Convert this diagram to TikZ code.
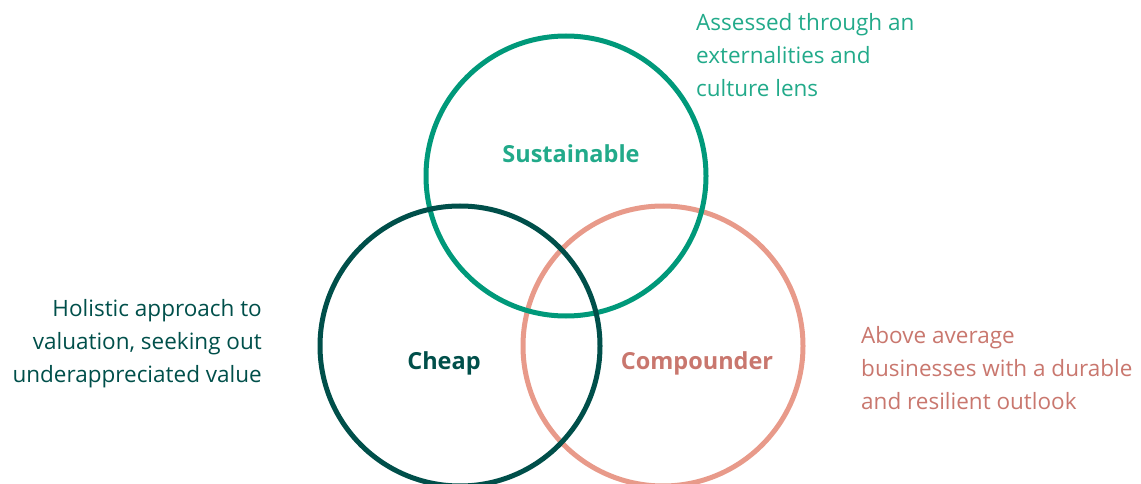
\documentclass[tikz,border=0pt]{standalone}
\usepackage{fontspec}
\setmainfont{Open Sans}
\definecolor{sustline}{HTML}{00997A}
\definecolor{susttext}{HTML}{22AA8A}
\definecolor{cheapline}{HTML}{004F4A}
\definecolor{compline}{HTML}{E89A8A}
\definecolor{comptext}{HTML}{C9776E}
\begin{document}
\begin{tikzpicture}[x=1pt, y=-1pt,
    ring/.style={circle, draw, line width=5pt, minimum size=280pt, inner sep=0pt},
    label/.style={font=\fontsize{23.5}{28}\selectfont\bfseries},
    note/.style={font=\fontsize{22.5}{33}\selectfont, inner sep=0pt}]
  \useasboundingbox (0,0) rectangle (1141,484);
  \clip (0,0) rectangle (1141,484);
  % the three rings
  \node[ring, compline] (comp) at (663,346) {};
  \node[ring, sustline] (sust) at (566,176) {};
  \node[ring, cheapline] (cheap) at (460,346) {};
  % ring titles
  \node[label, susttext] (sustlabel) at (571,154) {Sustainable};
  \node[label, cheapline] (cheaplabel) at (444,363) {Cheap};
  \node[label, comptext] (complabel) at (697,363) {Compounder};
  % notes beside the rings
  \node[note, susttext, anchor=west, align=left] (sustnote) at (696,55)
    {Assessed through an\\externalities and\\culture lens};
  \node[note, cheapline, anchor=east, align=right] (cheapnote) at (262,344)
    {Holistic approach to\\valuation, seeking out\\underappreciated value};
  \node[note, comptext, anchor=west, align=left] (compnote) at (861,368)
    {Above average\\businesses with a durable\\and resilient outlook};
\end{tikzpicture}
\end{document}
